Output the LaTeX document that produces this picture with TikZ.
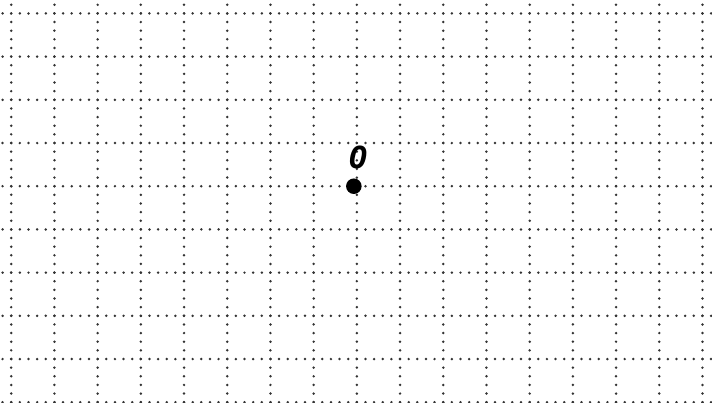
\documentclass[tikz,border=0pt]{standalone}
\usepackage{fontspec}
\newfontfamily\labelfont{DejaVu Sans Mono}
\begin{document}
\begin{tikzpicture}[gridline/.style={line width=1.8pt, line cap=round, dash pattern=on 0pt off 5.69pt, black!80}]
      \useasboundingbox[fill=white] (-8.26,-5.0) rectangle (8.22,4.31);
      \foreach \x in {-8,...,8}
         \draw[gridline] (\x,5) -- (\x,-5.1);
      \foreach \y in {-5,...,4}
         \draw[gridline] (-9,\y) -- (9,\y);
      \node[circle, fill=black, inner sep=0pt, minimum size=0.36cm] (O) at (-0.07,0) {};
      \node[font=\labelfont\bfseries\itshape\fontsize{20}{22}\selectfont] (Olabel) at (0.03,0.67) {O};
   \end{tikzpicture}
\end{document}
